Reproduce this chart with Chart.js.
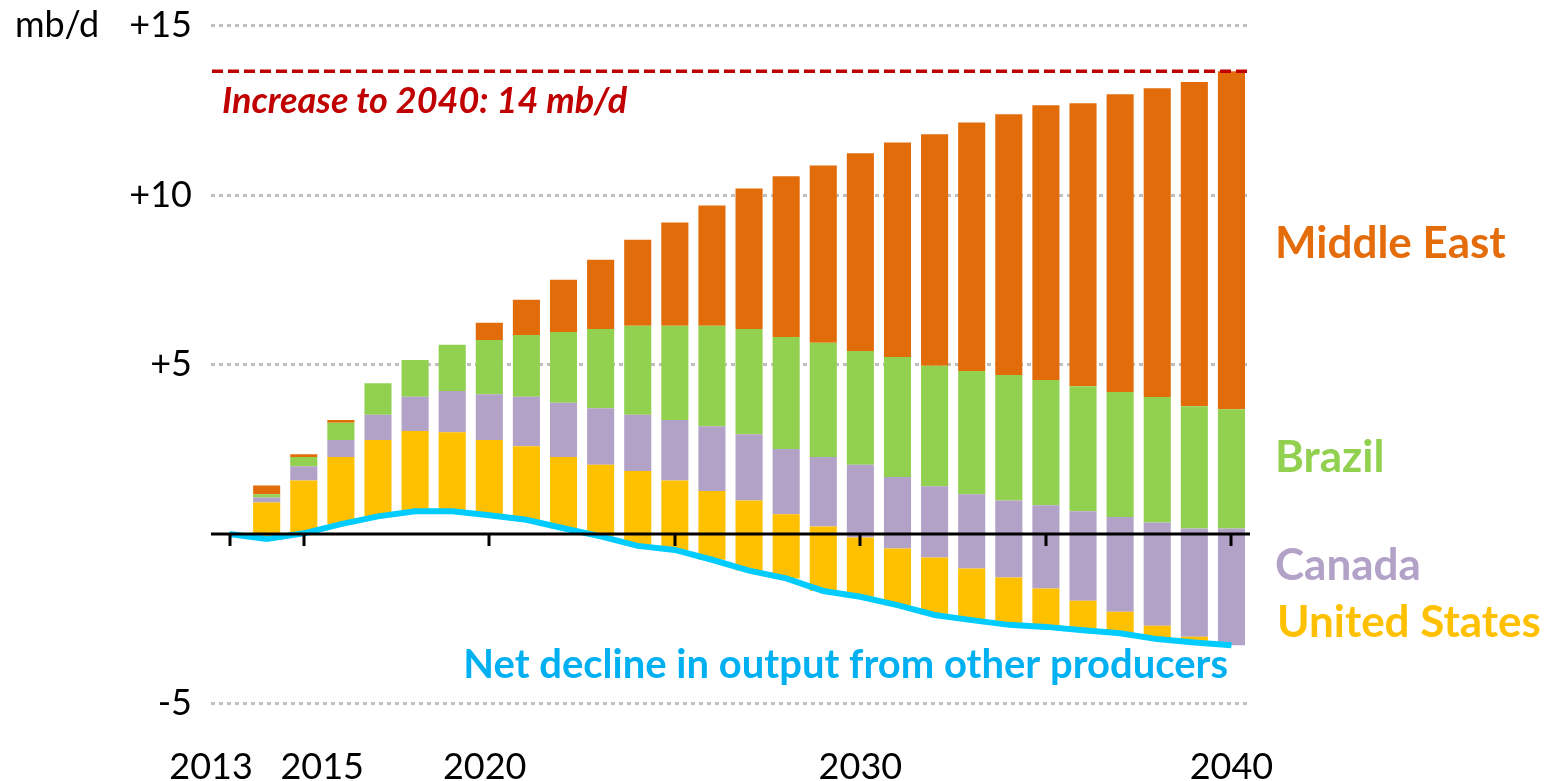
<!DOCTYPE html>
<html>
<head>
<meta charset="utf-8">
<script src="https://cdn.jsdelivr.net/npm/chart.js@4.4.1/dist/chart.umd.min.js"></script>
<style>
  html, body { margin: 0; padding: 0; background: #fff; overflow: hidden; }
  #wrap { width: 1545px; height: 781px; }
</style>
</head>
<body>
<div id="wrap"><canvas id="chart" width="1545" height="781"></canvas></div>
<script>
const years = [2013, 2014, 2015, 2016, 2017, 2018, 2019, 2020, 2021, 2022, 2023, 2024, 2025, 2026,
               2027, 2028, 2029, 2030, 2031, 2032, 2033, 2034, 2035, 2036, 2037, 2038, 2039, 2040];
const labelYears = [2013, 2015, 2020, 2030, 2040];
const tickYears = [2013, 2015, 2020, 2025, 2030, 2035, 2040];
const yTicks = [-5, 0, 5, 10, 15];

// mb/d change vs 2013. the bars sit on top of the other producers line
const otherProducers = [0, -0.15, 0.02, 0.29, 0.52, 0.67, 0.67, 0.55, 0.42, 0.17, -0.07, -0.35, -0.47, -0.76,
                        -1.08, -1.31, -1.68, -1.85, -2.10, -2.39, -2.54, -2.68, -2.74, -2.84, -2.93, -3.10, -3.20, -3.28];
const unitedStates = [null, 1.08, 1.56, 1.98, 2.25, 2.37, 2.33, 2.22, 2.17, 2.10, 2.11, 2.21, 2.05, 2.03,
                      2.07, 1.89, 1.90, 1.75, 1.67, 1.70, 1.52, 1.40, 1.13, 0.87, 0.64, 0.39, 0.17, 0];
const canada = [null, 0.15, 0.42, 0.50, 0.75, 1.01, 1.22, 1.35, 1.46, 1.60, 1.67, 1.66, 1.78, 1.91,
                1.95, 1.93, 2.05, 2.14, 2.11, 2.10, 2.19, 2.27, 2.46, 2.64, 2.79, 3.05, 3.19, 3.44];
const brazil = [null, 0.09, 0.27, 0.51, 0.93, 1.08, 1.36, 1.60, 1.82, 2.09, 2.34, 2.62, 2.78, 2.96,
                3.11, 3.30, 3.37, 3.36, 3.54, 3.55, 3.64, 3.70, 3.69, 3.69, 3.69, 3.70, 3.61, 3.52];
const middleEast = [null, 0.26, 0.08, 0.08, 0, 0, 0, 0.51, 1.04, 1.54, 2.04, 2.54, 3.05, 3.55,
                    4.14, 4.74, 5.23, 5.83, 6.33, 6.83, 7.33, 7.69, 8.11, 8.35, 8.78, 9.11, 9.56, 9.97];

// turn the segment sizes into floating [from, to] bars
const running = otherProducers.slice();
function floating(seg) {
    return seg.map((v, i) => {
        if (v === null) return null;
        const lo = running[i];
        running[i] = lo + v;
        return [lo, running[i]];
    });
}
const usBars = floating(unitedStates);
const canadaBars = floating(canada);
const brazilBars = floating(brazil);
const meBars = floating(middleEast);
const increase2040 = running[running.length - 1];

function barSet(label, data, color) {
    return {
        type: 'bar', label: label, data: data, backgroundColor: color,
        borderWidth: 0, grouped: false, order: 1,
        barPercentage: 0.73, categoryPercentage: 1
    };
}

// 2013 and 2015 sit close together, so they are nudged apart like in the original
function yearLabel(yr) {
    if (yr === 2013) return '2013    ';
    if (yr === 2015) return '    2015';
    if (yr === 2020) return '2020 ';
    return String(yr);
}

const overlay = {
    id: 'overlay',
    afterDatasetsDraw(chart) {
        const { ctx, chartArea, scales: { x, y } } = chart;
        const y0 = y.getPixelForValue(0);
        ctx.save();
        // zero axis with year ticks
        ctx.strokeStyle = '#000';
        ctx.lineWidth = 3;
        ctx.beginPath();
        ctx.moveTo(chartArea.left, y0);
        ctx.lineTo(chartArea.right, y0);
        tickYears.forEach(yr => {
            const px = Math.round(x.getPixelForValue(years.indexOf(yr)));
            ctx.moveTo(px, y0);
            ctx.lineTo(px, y0 + 12);
        });
        ctx.stroke();

        // 2040 increase line
        const yr = y.getPixelForValue(increase2040);
        ctx.strokeStyle = '#C00000';
        ctx.lineWidth = 3.5;
        ctx.setLineDash([11, 5]);
        ctx.beginPath();
        ctx.moveTo(chartArea.left + 1, yr);
        ctx.lineTo(chartArea.right + 2, yr);
        ctx.stroke();
        ctx.restore();
    },
    afterDraw(chart) {
        const { ctx, scales: { y } } = chart;
        ctx.save();
        ctx.textBaseline = 'alphabetic';
        ctx.textAlign = 'left';
        ctx.font = 'bold 44px Lato';
        ctx.fillStyle = '#E46C0A';
        ctx.fillText('Middle East', 1275, 258);
        ctx.fillStyle = '#92D050';
        ctx.fillText('Brazil', 1275, 472);
        ctx.fillStyle = '#B3A2C7';
        ctx.fillText('Canada', 1275, 580);
        ctx.fillStyle = '#FFC000';
        ctx.fillText('United States', 1277, 637);

        ctx.font = 'bold 40px Lato';
        ctx.fillStyle = '#00B0F0';
        ctx.textAlign = 'right';
        ctx.fillText('Net decline in output from other producers', 1228, 678);

        ctx.font = 'italic bold 36px Lato';
        ctx.fillStyle = '#C00000';
        ctx.textAlign = 'left';
        ctx.fillText('Increase to 2040: 14 mb/d', 222, 113);

        ctx.font = '36px Lato';
        ctx.fillStyle = '#000';
        ctx.textBaseline = 'middle';
        ctx.fillText('mb/d', 15, y.getPixelForValue(15));
        ctx.restore();
    }
};

new Chart(document.getElementById('chart'), {
    data: {
        labels: years.map(String),
        datasets: [
            {
                type: 'line', label: 'Other producers', data: otherProducers,
                borderColor: '#00CCFF', borderWidth: 6, pointRadius: 0, tension: 0,
                fill: false, order: 0
            },
            barSet('United States', usBars, '#FFC000'),
            barSet('Canada', canadaBars, '#B3A2C7'),
            barSet('Brazil', brazilBars, '#92D050'),
            barSet('Middle East', meBars, '#E36C0A')
        ]
    },
    options: {
        responsive: false,
        devicePixelRatio: 1,
        animation: false,
        layout: { padding: { left: 0, right: 295, top: 25.5, bottom: 0 } },
        plugins: { legend: { display: false }, tooltip: { enabled: false } },
        scales: {
            x: {
                offset: true,
                grid: { display: false, drawTicks: false },
                border: { display: false },
                afterFit: s => { s.height = 77.5; s.paddingLeft = 0; s.paddingRight = 0; },
                ticks: {
                    autoSkip: false, maxRotation: 0, padding: 42, color: '#000',
                    font: { family: 'Lato', size: 36 },
                    callback: (v, i) => labelYears.includes(years[i]) ? yearLabel(years[i]) : ''
                }
            },
            y: {
                min: -5, max: 15,
                afterBuildTicks: s => { s.ticks = yTicks.map(v => ({ value: v })); },
                afterFit: s => { s.width = 211; s.paddingTop = 0; s.paddingBottom = 0; },
                grid: {
                    color: c => (c.tick && c.tick.value === 0) ? 'rgba(0,0,0,0)' : '#BFBFBF',
                    lineWidth: 3, drawTicks: false
                },
                border: { display: false, dash: [4, 4] },
                ticks: {
                    padding: 19, color: '#000',
                    font: { family: 'Lato', size: 36 },
                    callback: v => v > 0 ? '+' + v : (v < 0 ? String(v) : '')
                }
            }
        }
    },
    plugins: [overlay]
});
</script>
</body>
</html>
